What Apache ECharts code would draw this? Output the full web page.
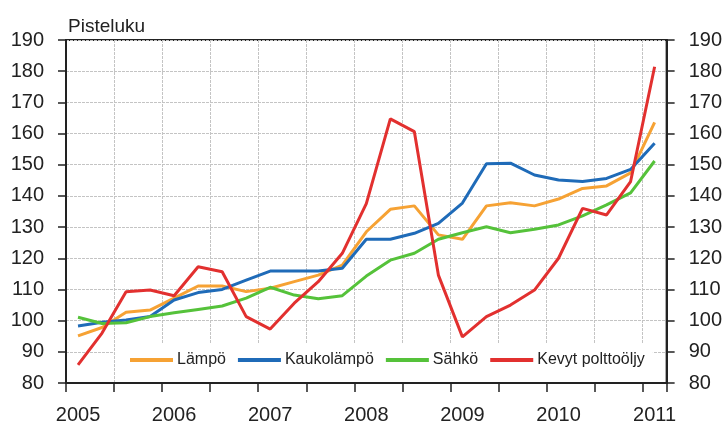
<!DOCTYPE html>
<html><head><meta charset="utf-8">
<script src="https://cdn.jsdelivr.net/npm/echarts@6/dist/echarts.min.js"></script>
<style>html,body{margin:0;padding:0;background:#fff}#c{width:725px;height:426px}</style>
</head><body><div id="c"></div>
<script>
const quarters = ['2005 Q1','2005 Q2','2005 Q3','2005 Q4','2006 Q1','2006 Q2','2006 Q3','2006 Q4','2007 Q1','2007 Q2','2007 Q3','2007 Q4','2008 Q1','2008 Q2','2008 Q3','2008 Q4','2009 Q1','2009 Q2','2009 Q3','2009 Q4','2010 Q1','2010 Q2','2010 Q3','2010 Q4','2011 Q1'];
const lampo = [95.1,97.8,102.7,103.4,107.2,111.1,111.1,109.3,110.4,112.5,114.6,117.8,128.5,135.7,136.8,127.5,126.1,136.8,137.8,136.8,139.0,142.4,143.2,147.4,163.6];
const kaukolampo = [98.3,99.5,100.2,101.3,106.6,109.0,110.0,113.0,115.9,115.9,115.9,116.8,126.1,126.1,128.0,131.2,137.7,150.3,150.5,146.7,145.1,144.6,145.6,148.5,156.9];
const sahko = [101.1,99.1,99.3,101.3,102.5,103.6,104.7,107.2,110.7,108.2,107.0,108.0,114.3,119.4,121.6,126.1,128.2,130.1,128.2,129.3,130.7,133.6,137.1,141.0,151.2];
const kevyt = [85.8,96.0,109.3,109.8,108.0,117.3,115.7,101.3,97.3,105.6,112.5,121.6,137.5,164.7,160.6,114.6,94.8,101.3,105.0,109.8,120.0,136.0,133.9,144.6,181.4];
const seriesNames = ['Lämpö','Kaukolämpö','Sähkö','Kevyt polttoöljy'];
const yTicks = {min: 80, max: 190, step: 10};
const yTitle = 'Pisteluku';

const colors = ['#F6A234','#1F6BB8','#55C23A','#E2302F'];
const font = '"Liberation Sans", Arial, sans-serif';
const chart = echarts.init(document.getElementById('c'), null, {renderer:'canvas'});
const yAxisBase = (pos) => ({
  type:'value', position:pos, min:yTicks.min, max:yTicks.max, interval:yTicks.step,
  axisLine:{show:true, lineStyle:{color:'#222', width:2}},
  axisTick:{show:true, length:8, lineStyle:{color:'#222', width:1.5}},
  axisLabel:{color:'#222', fontSize:20, fontFamily:font, margin:22},
  splitLine:{show: pos==='left', lineStyle:{color:'#c4c4c4', width:1, type:[3,1]}}
});
chart.setOption({
  animation:false,
  color:colors,
  textStyle:{fontFamily:font},
  grid:{left:66, right:55, top:40, bottom:43, show:true, borderColor:'#222', borderWidth:2, backgroundColor:'transparent'},
  title:{text:yTitle, left:63, top:12, textStyle:{fontSize:19, fontWeight:'normal', color:'#222', fontFamily:font}},
  legend:{
    data:seriesNames, left:115, top:343, padding:[9,8,14,15], backgroundColor:'#fff',
    itemWidth:43, itemHeight:4, itemGap:12, icon:'rect',
    textStyle:{fontSize:16, color:'#222', fontFamily:font, padding:[0,0,0,-1]}
  },
  xAxis:{
    type:'category', data:quarters, boundaryGap:true,
    axisLine:{show:true, lineStyle:{color:'#222', width:2}},
    axisTick:{show:true, interval:1, length:9, lineStyle:{color:'#222', width:1.5}},
    axisLabel:{interval:3, formatter:v=>v.slice(0,4), color:'#222', fontSize:20, fontFamily:font, margin:22},
    splitLine:{show:true, interval:1, lineStyle:{color:'#c4c4c4', width:1, type:[3,1]}}
  },
  yAxis:[yAxisBase('left'), yAxisBase('right')],
  series:[lampo,kaukolampo,sahko,kevyt].map((d,i)=>({
    name:seriesNames[i], type:'line', data:d, yAxisIndex:0, symbol:'none',
    lineStyle:{width:3, color:colors[i]}, itemStyle:{color:colors[i]}
  }))
});
</script></body></html>
